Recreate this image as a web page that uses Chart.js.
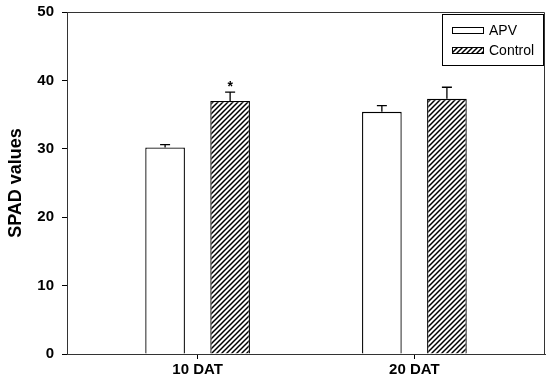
<!DOCTYPE html>
<html>
<head>
<meta charset="utf-8">
<script src="https://cdn.jsdelivr.net/npm/chart.js@4"></script>
<style>
  body { margin: 0; background: #fff; }
  canvas { display: block; }
</style>
</head>
<body>
<canvas id="spadChart" width="550" height="380"></canvas>
<script>
const categories = ["10 DAT", "20 DAT"];
const apvValues = [30.2, 35.4];
const apvErrors = [0.4, 0.9];
const controlValues = [37.0, 37.3];
const controlErrors = [1.3, 1.7];
const controlMarks = ["*", ""];
const yTicks = [0, 10, 20, 30, 40, 50];

function hatchPattern() {
    const c = document.createElement("canvas");
    c.width = 5; c.height = 5;
    const g = c.getContext("2d");
    g.fillStyle = "#fff";
    g.fillRect(0, 0, 5, 5);
    g.strokeStyle = "#000";
    g.lineWidth = 1.5;
    g.beginPath();
    g.moveTo(-1, 6); g.lineTo(6, -1);
    g.moveTo(-1, 1); g.lineTo(1, -1);
    g.moveTo(4, 6); g.lineTo(6, 4);
    g.stroke();
    return g.createPattern(c, "repeat");
}
const hatch = hatchPattern();

const errorSets = [apvErrors, controlErrors];
const markSets = [[], controlMarks];

// error bars (upper only) + significance star
const errorBars = {
    id: "errorBars",
    afterDatasetsDraw(chart) {
        const ctx = chart.ctx, y = chart.scales.y;
        ctx.save();
        ctx.strokeStyle = "#000";
        ctx.lineWidth = 1.3;
        chart.data.datasets.forEach((ds, i) => {
            chart.getDatasetMeta(i).data.forEach((bar, j) => {
                const v = ds.data[j].y, top = y.getPixelForValue(v + errorSets[i][j]);
                ctx.beginPath();
                ctx.moveTo(bar.x, bar.y);
                ctx.lineTo(bar.x, top);
                ctx.moveTo(bar.x - 5, top);
                ctx.lineTo(bar.x + 5, top);
                ctx.stroke();
                const m = markSets[i][j];
                if (m) {
                    ctx.fillStyle = "#000";
                    ctx.font = "bold 14px 'Liberation Sans', Arial, sans-serif";
                    ctx.textAlign = "center";
                    ctx.textBaseline = "middle";
                    ctx.fillText(m, bar.x, top - 5);
                }
            });
        });
        ctx.restore();
    }
};

// frame around plot area + boxed legend in the top right corner
const frameLegend = {
    id: "frameLegend",
    afterDraw(chart) {
        const ctx = chart.ctx, a = chart.chartArea;
        ctx.save();
        ctx.strokeStyle = "#333";
        ctx.lineWidth = 1;
        ctx.beginPath();
        ctx.moveTo(a.left, a.top + 0.5);
        ctx.lineTo(a.right - 0.5, a.top + 0.5);
        ctx.lineTo(a.right - 0.5, a.bottom);
        ctx.stroke();

        const bx = 442, by = 14, bw = 101, bh = 51;
        ctx.strokeStyle = "#000";
        ctx.strokeRect(bx + 0.5, by + 0.5, bw, bh);
        ctx.font = "14px 'Liberation Sans', Arial, sans-serif";
        ctx.textBaseline = "middle";
        ctx.textAlign = "left";
        const fills = ["#fff", hatch];
        chart.data.datasets.forEach((ds, i) => {
            const ry = by + 13 + i * 20;
            ctx.fillStyle = fills[i];
            ctx.fillRect(bx + 10, ry, 32, 7);
            ctx.strokeRect(bx + 10.5, ry + 0.5, 31, 6);
            ctx.fillStyle = "#000";
            ctx.fillText(ds.label, bx + 47, ry + 4);
        });
        ctx.restore();
    }
};

new Chart(document.getElementById("spadChart"), {
    type: "bar",
    data: {
        datasets: [
            {
                label: "APV",
                data: apvValues.map((v, i) => ({ x: i, y: v })),
                backgroundColor: "#fff",
                borderColor: "#000",
                borderWidth: 1.3,
                borderSkipped: "start"
            },
            {
                label: "Control",
                data: controlValues.map((v, i) => ({ x: i, y: v })),
                backgroundColor: hatch,
                borderColor: "#000",
                borderWidth: 1.3,
                borderSkipped: "start"
            }
        ]
    },
    options: {
        responsive: false,
        animation: false,
        categoryPercentage: 0.6,
        barPercentage: 0.61,
        layout: { padding: { top: 12, right: 5, left: 0, bottom: 0 } },
        plugins: { legend: { display: false }, tooltip: { enabled: false } },
        scales: {
            x: {
                type: "linear",
                min: -0.6025,
                max: 1.6025,
                offset: false,
                afterFit: s => { s.height = 26; s.paddingLeft = 0; s.paddingRight = 0; },
                afterBuildTicks: s => { s.ticks = categories.map((c, i) => ({ value: i })); },
                grid: { display: true, offset: false, drawOnChartArea: false, drawTicks: true, tickLength: 5, color: "#000" },
                border: { display: true, color: "#333", width: 1 },
                ticks: {
                    padding: 2,
                    color: "#000",
                    font: { family: "'Liberation Sans', Arial, sans-serif", size: 15, weight: "bold" },
                    callback: v => categories[v]
                }
            },
            y: {
                min: 0,
                max: 50,
                afterFit: s => { s.width = 67; s.paddingTop = 0; s.paddingBottom = 0; },
                afterBuildTicks: s => { s.ticks = yTicks.map(v => ({ value: v })); },
                grid: { drawOnChartArea: false, drawTicks: true, tickLength: 5, color: "#000" },
                border: { display: true, color: "#333", width: 1 },
                title: {
                    display: true,
                    text: "SPAD values",
                    color: "#000",
                    padding: { top: 5, bottom: 0 },
                    font: { family: "'Liberation Sans', Arial, sans-serif", size: 18, weight: "bold" }
                },
                ticks: {
                    padding: 8,
                    color: "#000",
                    font: { family: "'Liberation Sans', Arial, sans-serif", size: 15, weight: "bold" }
                }
            }
        }
    },
    plugins: [errorBars, frameLegend]
});
</script>
</body>
</html>
